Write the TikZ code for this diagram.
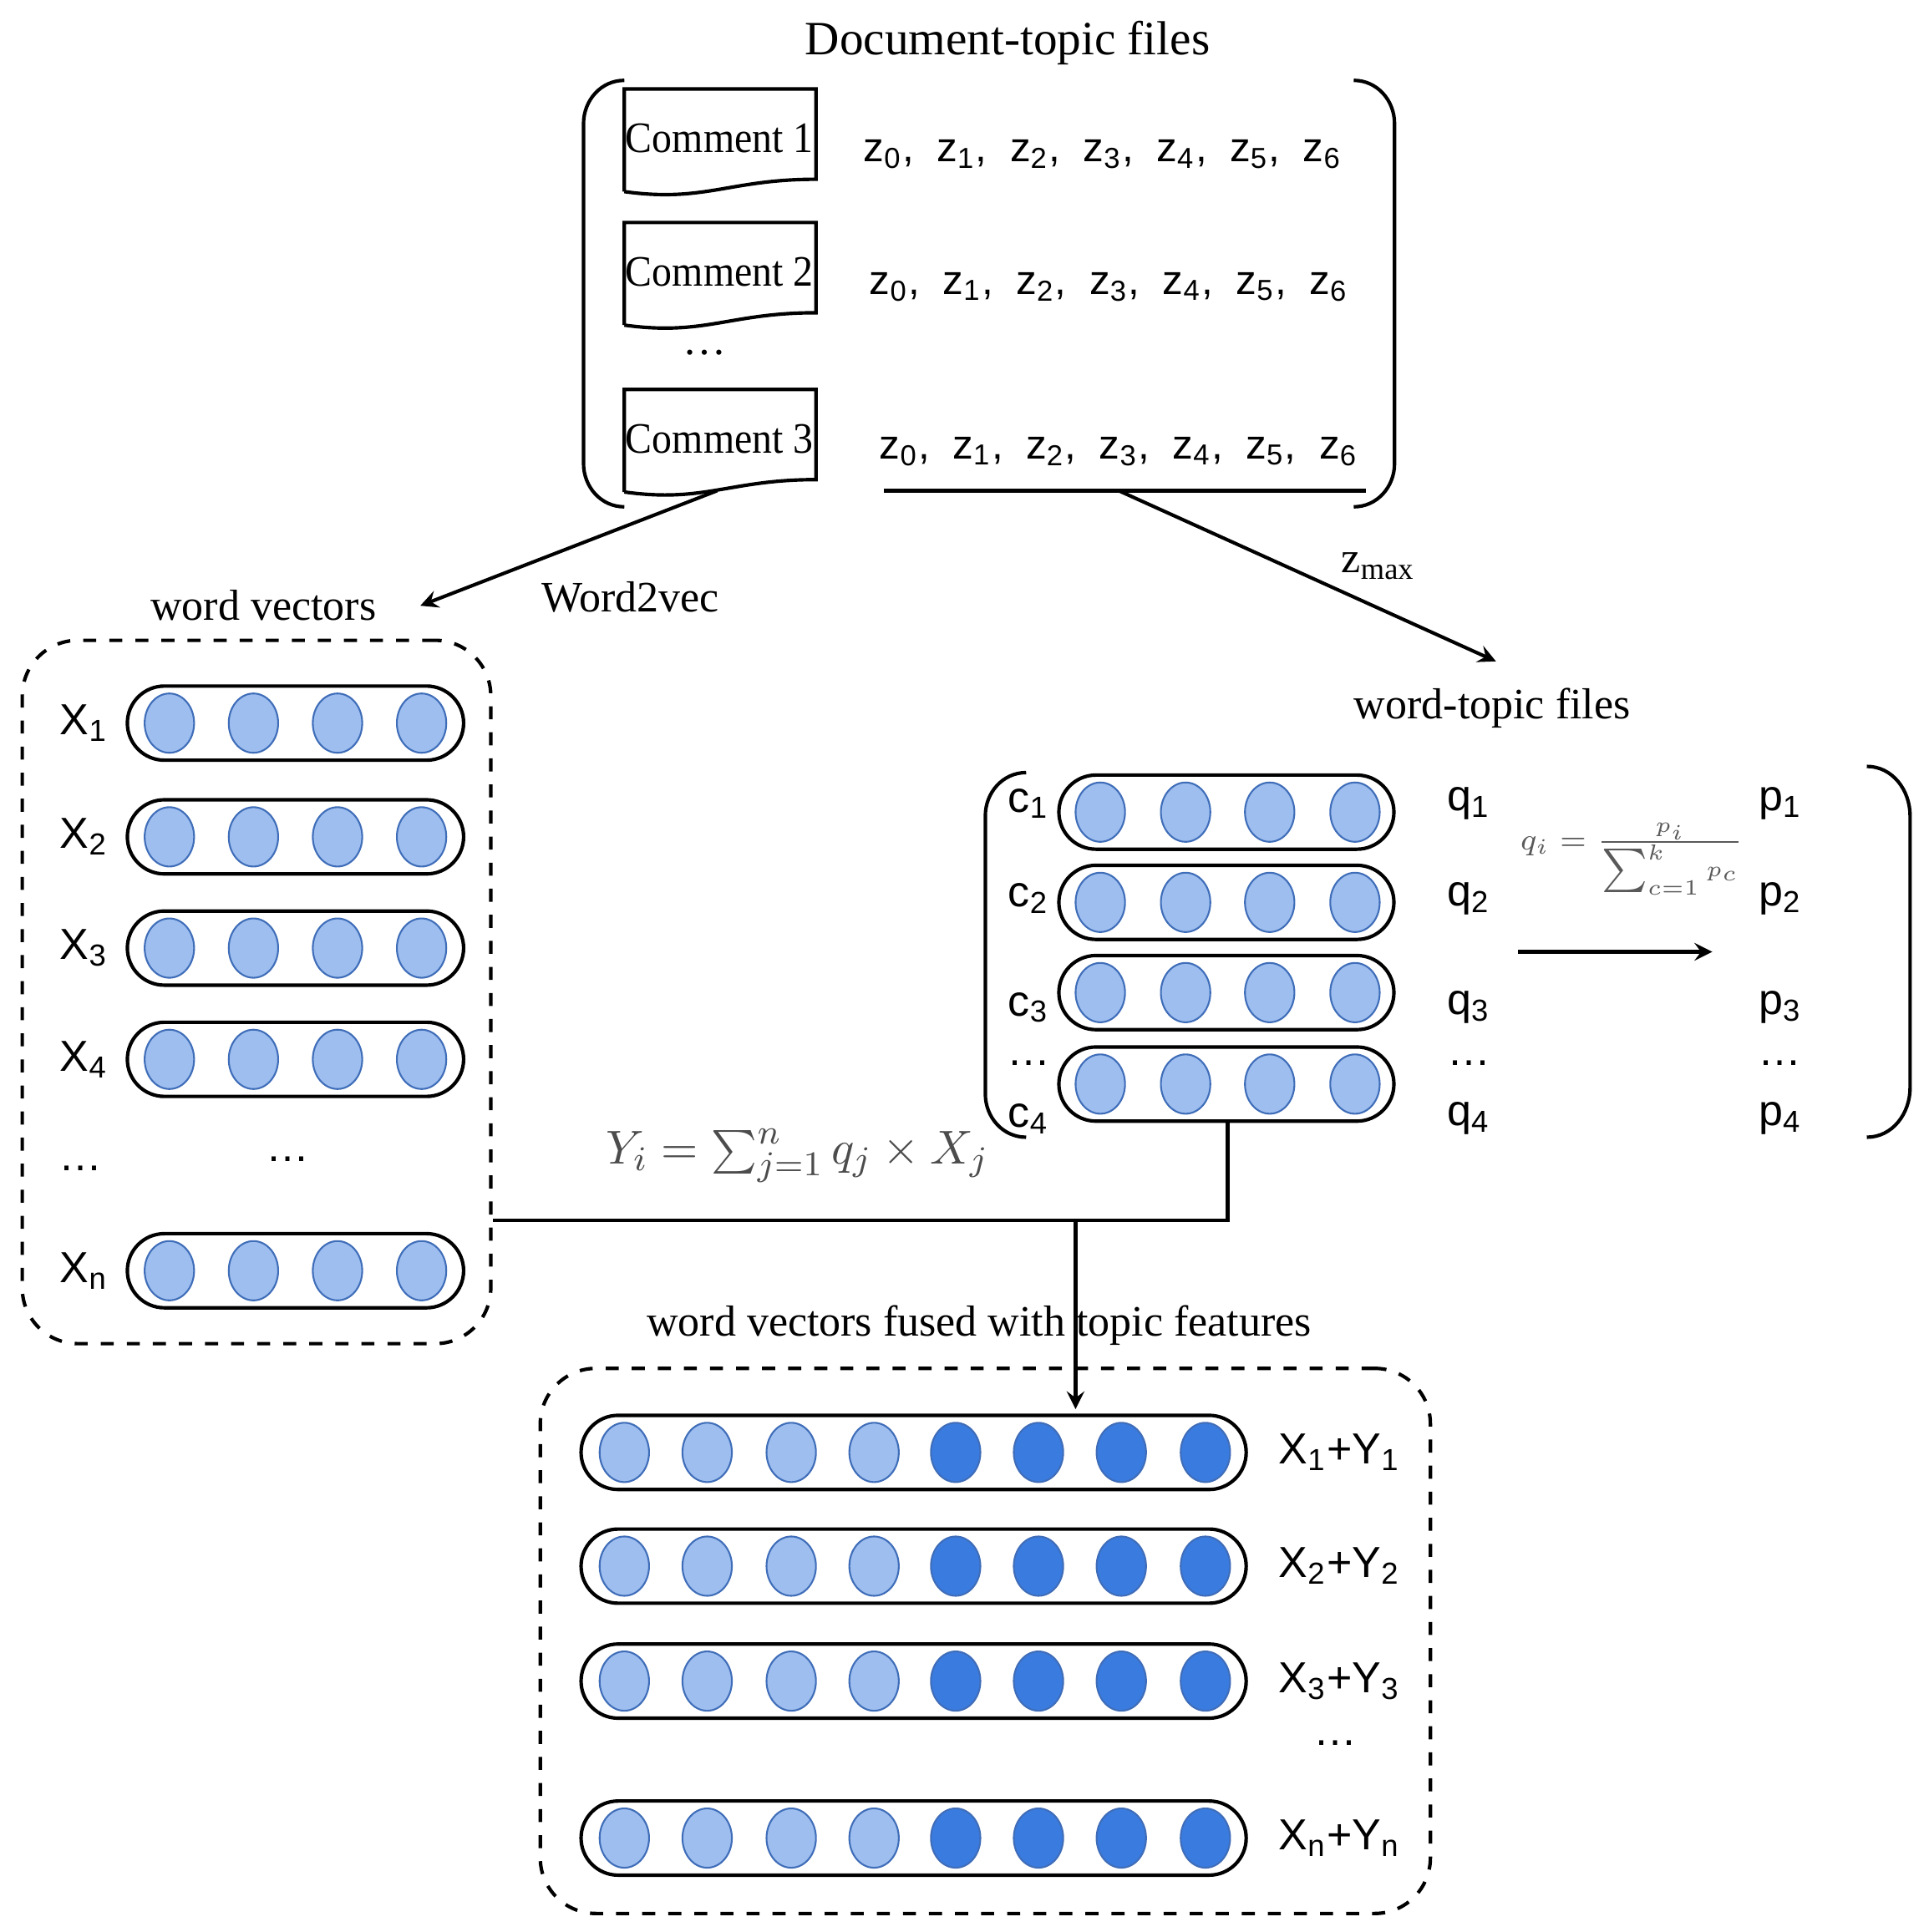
\documentclass[tikz,border=0pt]{standalone}
\usepackage{fontspec}
\setmainfont{Liberation Serif}
\setsansfont{Liberation Sans}
\usetikzlibrary{shapes.geometric}
\definecolor{circl}{HTML}{9DBEEF}
\definecolor{circd}{HTML}{3A7BE0}
\definecolor{circb}{HTML}{3F6DB8}
\newcommand{\zrow}{z\textsubscript{0}, \ z\textsubscript{1}, \ z\textsubscript{2}, \ z\textsubscript{3}, \ z\textsubscript{4}, \ z\textsubscript{5}, \ z\textsubscript{6}}
\newcommand{\commentdoc}[3]{% name, top y, label
  \draw[thick] (5.05,-#2-0.83) -- (5.05,-#2) -- (6.6,-#2) -- (6.6,-#2-0.73)
    .. controls (5.9,-#2-0.73) and (5.7,-#2-0.92) .. (5.05,-#2-0.83);
  \node[serif, xscale=0.92] (#1) at (5.82,-#2-0.4) {#3};}
\begin{document}
\begin{tikzpicture}[>=stealth,
  vec/.style = {draw, thick, rounded corners=0.3cm, minimum height=0.6cm, inner sep=0},
  lt/.style = {ellipse, draw=circb, fill=circl, minimum width=0.4cm, minimum height=0.48cm, inner sep=0},
  dk/.style = {ellipse, draw=circb, fill=circd, minimum width=0.4cm, minimum height=0.48cm, inner sep=0},
  lbl/.style = {font=\sffamily\fontsize{10}{12}\selectfont},
  serif/.style = {font=\fontsize{10}{12}\selectfont},
  frame/.style = {draw, thick, dashed, rounded corners=0.45cm}]
\useasboundingbox (0,0) rectangle (15.6,-15.63);
% document-topic files
\node[serif, font=\fontsize{11}{13}\selectfont] (dtitle) at (8.15,-0.35) {Document-topic files};
\draw[thick] (5.05,-0.65) to[out=180,in=90] (4.72,-1.0) -- (4.72,-3.75) to[out=-90,in=180] (5.05,-4.1);
\draw[thick] (10.95,-0.65) to[out=0,in=90] (11.28,-1.0) -- (11.28,-3.75) to[out=-90,in=0] (10.95,-4.1);
\commentdoc{com1}{0.72}{Comment 1}
\commentdoc{com2}{1.8}{Comment 2}
\commentdoc{com3}{3.15}{Comment 3}
\node[serif] (cdots) at (5.7,-2.85) {\dots};
\node[lbl, font=\sffamily\fontsize{9.5}{11}\selectfont] (zr1) at (8.92,-1.25) {\zrow};
\node[lbl, font=\sffamily\fontsize{9.5}{11}\selectfont] (zr2) at (8.97,-2.32) {\zrow};
\node[lbl, font=\sffamily\fontsize{9.5}{11}\selectfont] (zr3) at (9.05,-3.65) {\zrow};
\coordinate (ul) at (7.15,-3.97);
\coordinate (ur) at (11.05,-3.97);
\draw[thick] (ul) -- (ur);
\coordinate (zmid) at (9.05,-3.97);
\coordinate (c3b) at (5.8,-3.97);
% word vectors
\node[serif] (wtitle) at (2.13,-4.9) {word vectors};
\coordinate (wtip) at (3.4,-4.9);
\draw[thick,->] (c3b) -- (wtip);
\node[serif] (w2v) at (5.1,-4.83) {Word2vec};
% word-topic files
\coordinate (ttip) at (12.1,-5.35);
\draw[thick,->] (zmid) -- (ttip);
\node[serif] (zmax) at (11.15,-4.58) {z\textsubscript{max}};
\node[frame, minimum width=3.79cm, minimum height=5.69cm] (wframe) at (2.075,-8.025) {};
\foreach \n/\y/\t in {1/5.85/1, 2/6.77/2, 3/7.67/3, 4/8.57/4, 5/10.28/n} {
  \node[vec, minimum width=2.72cm] (wv\n) at (2.39,-\y) {};
  \foreach \x [count=\k] in {1.37,2.05,2.73,3.41}
    \node[lt] (wv\n-\k) at (\x,-\y) {};
  \node[lbl] (xl\n) at (0.68,-\y) {X\textsubscript{\t}};
}
\node[lbl] (xdots) at (0.65,-9.45) {\dots};
\node[lbl] (wdots) at (2.33,-9.38) {\dots};
\node[serif] (ttitle) at (12.07,-5.73) {word-topic files};
\draw[thick] (8.3,-6.25) to[out=180,in=90] (7.97,-6.6) -- (7.97,-8.85) to[out=-90,in=180] (8.3,-9.2);
\draw[thick] (15.1,-6.2) to[out=0,in=90] (15.45,-6.6) -- (15.45,-8.8) to[out=-90,in=0] (15.1,-9.2);
\foreach \n/\y/\ly/\t in {1/6.57/6.5/1, 2/7.30/7.27/2, 3/8.03/8.15/3, 4/8.77/9.05/4} {
  \node[vec, minimum width=2.71cm] (tv\n) at (9.92,-\y) {};
  \foreach \x [count=\k] in {8.9,9.59,10.27,10.96}
    \node[lt] (tv\n-\k) at (\x,-\y) {};
  \node[lbl] (cl\n) at (8.32,-\ly) {c\textsubscript{\t}};
  \node[lbl] (ql\n) at (11.88,-\ly) {q\textsubscript{\t}};
  \node[lbl] (pl\n) at (14.4,-\ly) {p\textsubscript{\t}};
}
\node[lbl] (cdt) at (8.32,-8.6) {\dots};
\node[lbl] (qdt) at (11.88,-8.6) {\dots};
\node[lbl] (pdt) at (14.4,-8.6) {\dots};
\node[text=gray!70!black, font=\fontsize{7}{8}\selectfont] (qform) at (13.2,-6.95) {$q_i=\frac{p_i}{\sum_{c=1}^{k}p_c}$};
\coordinate (qa) at (12.28,-7.7);
\coordinate (qb) at (13.85,-7.7);
\draw[thick,->] (qa) -- (qb);
% fusion
\coordinate (tdown) at (9.93,-9.87);
\coordinate (jn) at (8.7,-9.87);
\coordinate (ftip) at (8.7,-11.4);
\draw[thick] (tv4.south -| tdown) -- (tdown) -- (wframe.east |- tdown);
\draw[thick,->] (jn) -- (ftip);
\node[font=\fontsize{11}{13}\selectfont, text=gray!60!black] (yform) at (6.45,-9.35) {$Y_i=\sum_{j=1}^{n} q_j\times X_j$};
% fused vectors
\node[serif] (ftitle) at (7.92,-10.72) {word vectors fused with topic features};
\node[frame, minimum width=7.2cm, minimum height=4.41cm] (fframe) at (7.97,-13.275) {};
\foreach \n/\y/\t in {1/11.75/1, 2/12.67/2, 3/13.60/3, 4/14.87/n} {
  \node[vec, minimum width=5.38cm] (fv\n) at (7.39,-\y) {};
  \foreach \x [count=\k] in {5.05,5.72,6.4,7.07}
    \node[lt] (fl\n-\k) at (\x,-\y) {};
  \foreach \x [count=\k] in {7.73,8.4,9.07,9.75}
    \node[dk] (fd\n-\k) at (\x,-\y) {};
  \node[lbl, anchor=west] (fxl\n) at (10.22,-\y) {X\textsubscript{\t}+Y\textsubscript{\t}};
}
\node[lbl] (fdots) at (10.8,-14.1) {\dots};
\end{tikzpicture}
\end{document}
